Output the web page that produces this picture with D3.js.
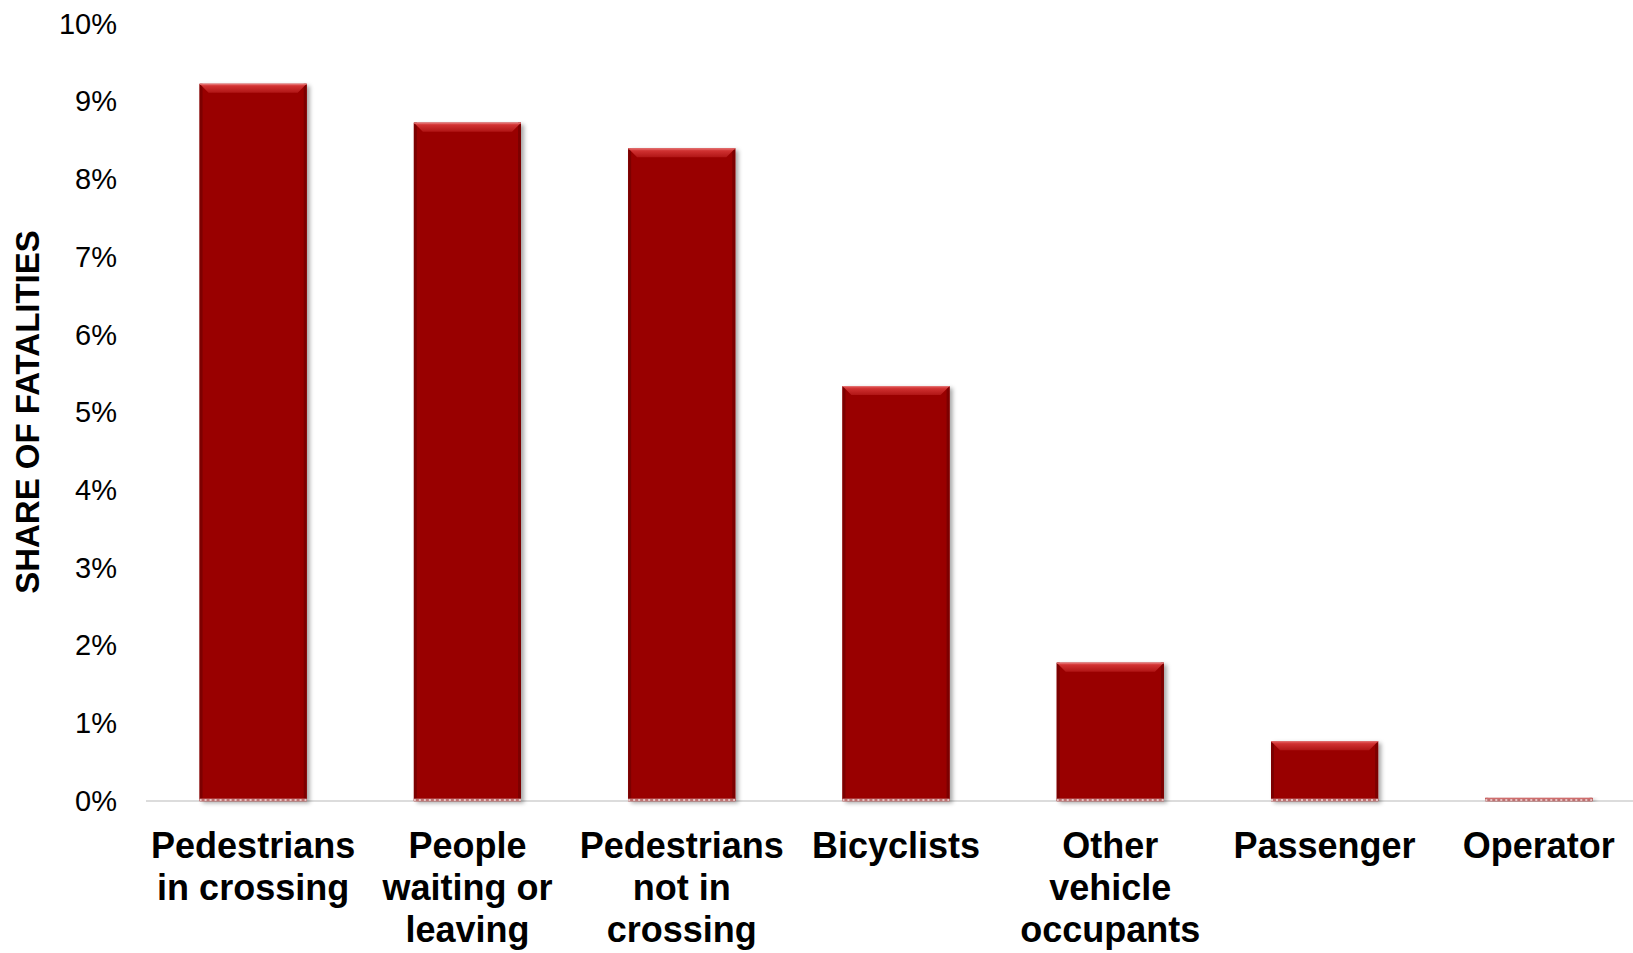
<!DOCTYPE html>
<html>
<head>
<meta charset="utf-8">
<script src="https://cdn.jsdelivr.net/npm/d3@7"></script>
<style>
  html, body { margin: 0; padding: 0; background: #ffffff; }
  svg { display: block; }
  text { font-family: "Liberation Sans", Arial, sans-serif; fill: #000; }
</style>
</head>
<body>
<svg id="chart" width="1633" height="953"></svg>
<script>
// Share of fatalities by person type
const categories = [
  ["Pedestrians", "in crossing"],
  ["People", "waiting or", "leaving"],
  ["Pedestrians", "not in", "crossing"],
  ["Bicyclists"],
  ["Other", "vehicle", "occupants"],
  ["Passenger"],
  ["Operator"]
];
const shares = [0.0923, 0.0873, 0.0840, 0.0534, 0.0178, 0.0077, 0.0004];
const yTicks = [0, 0.01, 0.02, 0.03, 0.04, 0.05, 0.06, 0.07, 0.08, 0.09, 0.10];
const yTitle = "SHARE OF FATALITIES";

const svg = d3.select("#chart");
const keys = categories.map(c => c.join(" "));

const x = d3.scaleBand()
  .domain(keys)
  .range([146, 1646])
  .paddingInner(0.5)
  .paddingOuter(0.25);

const y = d3.scaleLinear()
  .domain([0, 0.10])
  .range([801, 24]);

// defs: bevel gradient and shadow
const defs = svg.append("defs");
const topGrad = defs.append("linearGradient")
  .attr("id", "bevelTop").attr("x1", 0).attr("y1", 0).attr("x2", 0).attr("y2", 1);
topGrad.append("stop").attr("offset", "0%").attr("stop-color", "#e35a5a");
topGrad.append("stop").attr("offset", "30%").attr("stop-color", "#cf3030");
topGrad.append("stop").attr("offset", "100%").attr("stop-color", "#b01515");

const shadow = defs.append("filter").attr("id", "shadow")
  .attr("x", "-10%").attr("y", "-10%").attr("width", "130%").attr("height", "130%");
shadow.append("feDropShadow")
  .attr("dx", 3).attr("dy", 2).attr("stdDeviation", 2)
  .attr("flood-color", "#000").attr("flood-opacity", 0.35);

// baseline
svg.append("line")
  .attr("x1", 146).attr("x2", 1633)
  .attr("y1", y(0)).attr("y2", y(0))
  .attr("stroke", "#dcdcdc").attr("stroke-width", 2);

// y axis tick labels
const yAxis = d3.axisLeft(y)
  .tickValues(yTicks)
  .tickFormat(d3.format(".0%"))
  .tickSize(0)
  .tickPadding(0);
const yg = svg.append("g").attr("transform", "translate(117,0)").call(yAxis);
yg.select(".domain").remove();
yg.selectAll("text")
  .attr("font-size", 29)
  .attr("font-family", "Liberation Sans, Arial, sans-serif")
  .attr("fill", "#000");

// y axis title
svg.append("text")
  .attr("transform", "translate(39,412) rotate(-90)")
  .attr("text-anchor", "middle")
  .attr("font-size", 33)
  .attr("font-weight", "bold")
  .text(yTitle);

// bars
const bars = svg.append("g").selectAll("g.bar")
  .data(shares.map((v, i) => ({ key: keys[i], value: v })))
  .join("g").attr("class", "bar");

bars.each(function(d) {
  const g = d3.select(this);
  const x0 = x(d.key), w = x.bandwidth();
  const yt = y(d.value), yb = y(0);
  const h = yb - yt;
  const bev = Math.min(9, h);

  g.append("rect")
    .attr("x", x0).attr("y", yt).attr("width", w).attr("height", h)
    .attr("fill", "#990505")
    .attr("filter", "url(#shadow)");

  // side shading
  g.append("rect")
    .attr("x", x0).attr("y", yt).attr("width", 3).attr("height", h)
    .attr("fill", "#7c0000");
  g.append("rect")
    .attr("x", x0 + w - 3).attr("y", yt).attr("width", 3).attr("height", h)
    .attr("fill", "#7c0000");

  // top bevel
  g.append("path")
    .attr("d", `M${x0},${yt} L${x0 + w},${yt} L${x0 + w - bev},${yt + bev} L${x0 + bev},${yt + bev} Z`)
    .attr("fill", "url(#bevelTop)");
  g.append("line")
    .attr("x1", x0).attr("x2", x0 + w).attr("y1", yt + 0.5).attr("y2", yt + 0.5)
    .attr("stroke", "#e27070").attr("stroke-width", 1);

  // dotted base edge
  g.append("line")
    .attr("x1", x0).attr("x2", x0 + w).attr("y1", yb - 1).attr("y2", yb - 1)
    .attr("stroke", "#c07070").attr("stroke-width", 3);
  g.append("line")
    .attr("x1", x0).attr("x2", x0 + w).attr("y1", yb - 1).attr("y2", yb - 1)
    .attr("stroke", "#f0dede").attr("stroke-width", 1.5)
    .attr("stroke-dasharray", "2 3");
});

// category labels
const labels = svg.append("g").selectAll("text.cat")
  .data(categories)
  .join("text")
  .attr("class", "cat")
  .attr("text-anchor", "middle")
  .attr("font-size", 36)
  .attr("font-weight", "bold")
  .attr("x", (d, i) => x(keys[i]) + x.bandwidth() / 2)
  .attr("y", 858);

labels.each(function(lines, i) {
  const t = d3.select(this);
  const cx = x(keys[i]) + x.bandwidth() / 2;
  lines.forEach((ln, j) => {
    t.append("tspan")
      .attr("x", cx)
      .attr("dy", j === 0 ? 0 : 42)
      .text(ln);
  });
});
</script>
</body>
</html>
